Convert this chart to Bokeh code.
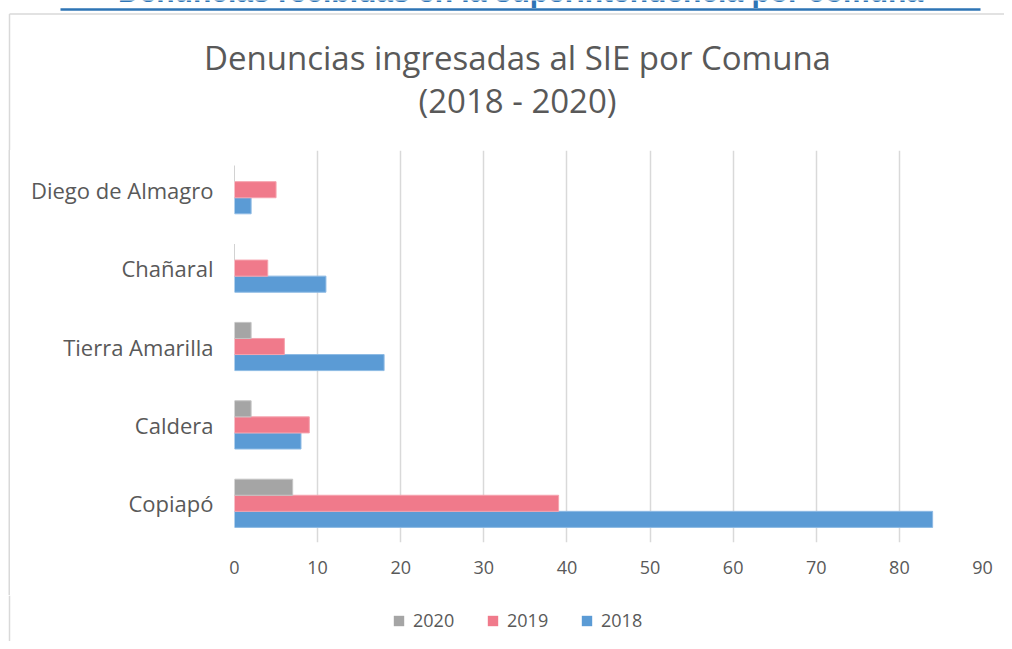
from bokeh.plotting import figure
from bokeh.layouts import column, row
from bokeh.models import ColumnDataSource, FactorRange, Range1d, Legend, LegendItem, FixedTicker, Spacer
from bokeh.transform import dodge
from bokeh.core.properties import value
from bokeh.embed import file_html
from bokeh.resources import INLINE

comunas = ["Copiapó", "Caldera", "Tierra Amarilla", "Chañaral", "Diego de Almagro"]
v2018 = [84, 8, 18, 11, 2]
v2019 = [39, 9, 6, 4, 5]
v2020 = [7, 2, 2, 0, 0]
x_ticks = [0, 10, 20, 30, 40, 50, 60, 70, 80, 90]
years = ["2020", "2019", "2018"]
colors = {"2018": "#5B9BD5", "2019": "#F07A8B", "2020": "#A5A5A5"}
edges = {"2018": "#8DBAE4", "2019": "#F5A3AE", "2020": "#C4C4C4"}

header = "Denuncias recibidas en la superintendencia por comuna"
title_lines = ["Denuncias ingresadas al SIE por Comuna", "(2018 - 2020)"]

W = 1004
HT = 150          # top strip (header + title)
HC = 445          # chart strip
HL = 46           # legend strip
LW = 10           # left strip holding the box border
GRID = "#D9D9D9"
TXT = "#595959"


def strip(width, height):
    f = figure(width=width, height=height, x_range=Range1d(0, width), y_range=Range1d(height, 0),
               x_axis_type=None, y_axis_type=None, output_backend="svg", toolbar_location=None,
               min_border=0, min_border_left=0, min_border_right=0, min_border_top=0,
               min_border_bottom=0)
    f.outline_line_color = None
    f.grid.visible = False
    return f


# ---------------- top strip: header, box border, title ----------------
t = strip(W, HT)
t.text(x=[520], y=[7], text=[header], text_font=value("Liberation Sans"), text_font_style="bold",
       text_font_size="30px", text_color="#2E74B5", text_align="center", text_baseline="bottom")
t.segment(x0=[60], y0=[9], x1=[980], y1=[9], line_color="#2E74B5", line_width=2.5)
t.segment(x0=[9, 9], y0=[13.5, 13.5], x1=[W, 9], y1=[13.5, HT], line_color=GRID, line_width=1.5)
t.text(x=[517, 517], y=[57, 100], text=title_lines, text_font=value("Open Sans"),
       text_font_size="33px", text_color=TXT, text_align="center", text_baseline="middle")

# ---------------- left strip: box border ----------------
l = Spacer(width=LW, height=HC, styles={"box-shadow": "inset -1.5px 0 0 0 #D9D9D9"})

# ---------------- chart ----------------
src = ColumnDataSource(dict(comuna=comunas, v2018=v2018, v2019=v2019, v2020=v2020))

p = figure(width=W - LW, height=HC, y_range=FactorRange(*comunas, range_padding=0),
           x_range=Range1d(0, 90), output_backend="svg", toolbar_location=None,
           min_border_left=234 - LW, min_border_right=W - 982, min_border_top=0,
           min_border_bottom=HC - 392)
p.outline_line_color = None

bw = 0.205
for yr, off in [("2018", -bw), ("2019", 0), ("2020", bw)]:
    p.hbar(y=dodge("comuna", off, range=p.y_range), right="v" + yr, left=0, height=bw,
           source=src, fill_color=colors[yr], line_color=edges[yr], line_width=1)

p.xaxis.ticker = FixedTicker(ticks=x_ticks)
p.xaxis.axis_line_color = None
p.xaxis.major_tick_line_color = None
p.xaxis.minor_tick_line_color = None
p.xaxis.major_label_text_font = "Open Sans"
p.xaxis.major_label_text_font_size = "18px"
p.xaxis.major_label_text_color = TXT
p.xaxis.major_label_standoff = 12

p.yaxis.axis_line_color = None
p.yaxis.major_tick_line_color = None
p.yaxis.minor_tick_line_color = None
p.yaxis.major_label_text_font = "Open Sans"
p.yaxis.major_label_text_font_size = "22px"
p.yaxis.major_label_text_color = TXT
p.yaxis.major_label_standoff = 15

p.ygrid.grid_line_color = None
p.xgrid.grid_line_color = GRID
p.xgrid.grid_line_width = 1.5

# ---------------- legend strip ----------------
b = strip(W, HL)
b.segment(x0=[9], y0=[0], x1=[9], y1=[HL], line_color=GRID, line_width=1.5)
items = []
for yr in years:
    # legend-only renderer: a single undefined value, so nothing is drawn in the strip
    r = b.hbar(y=[float("nan")], right=[float("nan")], left=0, height=1,
               fill_color=colors[yr], line_color=None)
    items.append(LegendItem(label=yr, renderers=[r]))
legend = Legend(items=items, orientation="horizontal", location=(392, 9),
                glyph_width=13, glyph_height=13, label_text_font="Open Sans",
                label_text_font_size="18px", label_text_color=TXT, label_width=45,
                spacing=28, label_standoff=8, padding=0, margin=0,
                border_line_color=None, background_fill_alpha=0)
b.add_layout(legend)

layout = column(t, row(l, p, spacing=0), b, spacing=0)
open("out.html", "w").write(file_html(layout, INLINE))
